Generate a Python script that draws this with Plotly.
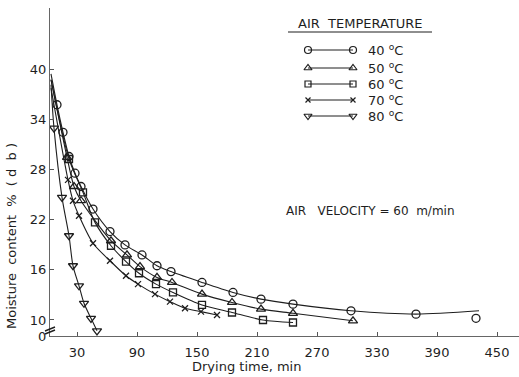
import plotly.graph_objects as go

# ---------------- data ----------------
time_40 = [4, 10, 16, 22, 28, 34, 46, 63, 78, 95, 110, 124, 155, 186, 214, 246, 304, 369, 429]
moist_40 = [39.5, 35.8, 32.5, 29.6, 27.6, 26.0, 23.3, 20.6, 19.0, 17.8, 16.5, 15.8, 14.5, 13.3, 12.5, 11.9, 11.1, 10.7, 10.2]
fit_end_40 = (432, 11.1)   # smooth fitted curve ends above the last 40 C point

time_50 = [4, 20, 27, 34, 64, 80, 93, 110, 125, 155, 185, 214, 246, 306]
moist_50 = [38.8, 29.5, 26.0, 24.3, 19.5, 17.8, 16.4, 15.1, 14.5, 13.1, 12.1, 11.3, 10.8, 9.9]

time_60 = [4, 22, 36, 48, 64, 79, 92, 109, 126, 155, 185, 216, 246]
moist_60 = [38.8, 29.3, 25.3, 21.7, 18.9, 17.0, 15.6, 14.3, 13.3, 11.8, 10.9, 10.0, 9.7]

time_70 = [4, 21, 26, 32, 46, 63, 79, 91, 108, 123, 138, 154, 170]
moist_70 = [37.8, 26.8, 24.3, 22.5, 19.2, 17.1, 15.3, 14.3, 13.1, 12.2, 11.4, 11.0, 10.6]

time_80 = [4, 7, 15, 22, 26, 32, 37, 44, 50]
moist_80 = [38.2, 33.0, 24.7, 20.1, 16.5, 14.1, 12.0, 10.2, 8.7]

series_labels = ["40", "50", "60", "70", "80"]
series_symbols = ["circle-open", "triangle-up-open", "square-open", "x-thin-open", "triangle-down-open"]
series_sizes = [8, 8, 7, 6, 8]

x_ticks = [30, 90, 150, 210, 270, 330, 390, 450]
y_ticks = [10, 16, 22, 28, 34, 40]
y_axis_floor = 8.08          # level of the x-axis (labelled "0", broken axis)
x_range = [3, 472]
y_range = [y_axis_floor, 47.4]

# ---------------- figure ----------------
INK = "#1e1e1e"
FONT = "DejaVu Sans"
W, H = 519, 377
ML, MR, MT, MB = 50, 0, 8, 41
PW, PH = W - ML - MR, H - MT - MB

def px(xp):  # pixel -> paper x
    return (xp - ML) / PW

def py(yp):  # pixel -> paper y
    return (H - MB - yp) / PH

fig = go.Figure()

all_t = [time_40, time_50, time_60, time_70, time_80]
all_m = [moist_40, moist_50, moist_60, moist_70, moist_80]

for i, (t, m) in enumerate(zip(all_t, all_m)):
    if i == 0:
        lx = t[:-1] + [fit_end_40[0]]
        ly = m[:-1] + [fit_end_40[1]]
    else:
        lx, ly = t, m
    fig.add_trace(go.Scatter(x=lx, y=ly, mode="lines",
                             line=dict(color=INK, width=1.1, shape="spline", smoothing=0.8),
                             showlegend=False, hoverinfo="skip"))
    fig.add_trace(go.Scatter(x=t[1:], y=m[1:], mode="markers",
                             marker=dict(symbol=series_symbols[i], size=series_sizes[i],
                                         color=INK, line=dict(width=1.3, color=INK)),
                             showlegend=False))

# custom legend drawn on an overlay axis in pixel units
leg_rows = [50, 68, 84, 100, 116]
for i, yr in enumerate(leg_rows):
    fig.add_trace(go.Scatter(x=[308, 353], y=[yr, yr], mode="lines+markers", xaxis="x2", yaxis="y2",
                             line=dict(color=INK, width=1),
                             marker=dict(symbol=series_symbols[i], size=series_sizes[i] - 1,
                                         color=INK, line=dict(width=1.2, color=INK)),
                             showlegend=False, hoverinfo="skip"))

def ann(x, y, text, size=13, xanchor="center", angle=0):
    return dict(x=px(x), y=py(y), xref="paper", yref="paper", xanchor=xanchor, yanchor="middle",
                showarrow=False, text=text, textangle=angle,
                font=dict(family=FONT, size=size, color=INK))

annotations = [ann(366, yr, f"{series_labels[i]} <sup>o</sup>C", xanchor="left")
               for i, yr in enumerate(leg_rows)]
annotations += [
    ann(360, 23, "AIR  TEMPERATURE"),
    ann(284, 211, "AIR   VELOCITY = 60  m/min", size=12, xanchor="left"),
    ann(246, 366, "Drying time, min"),
    ann(12, 236, "Moisture  content  %  ( d  b )", angle=-90),
]

shapes = [
    dict(type="line", xref="paper", yref="paper", x0=px(288), x1=px(432), y0=py(32), y1=py(32),
         line=dict(color=INK, width=1.2)),
    dict(type="line", xref="paper", yref="paper", x0=px(45), x1=px(55), y0=py(331), y1=py(327),
         line=dict(color=INK, width=1.5)),
    dict(type="line", xref="paper", yref="paper", x0=px(45), x1=px(55), y0=py(334), y1=py(330),
         line=dict(color=INK, width=1.5)),
]

fig.update_layout(
    width=W, height=H,
    margin=dict(l=ML, r=MR, t=MT, b=MB),
    paper_bgcolor="white", plot_bgcolor="white",
    font=dict(family=FONT, size=13, color=INK),
    showlegend=False,
    annotations=annotations, shapes=shapes,
    xaxis=dict(range=x_range, tickvals=x_ticks, ticks="inside", ticklen=4, tickcolor="#555",
               showline=True, linecolor="#666", linewidth=1, showgrid=False, zeroline=False,
               ticklabelstandoff=4, tickfont=dict(family=FONT, size=13, color=INK)),
    yaxis=dict(range=y_range, tickvals=[y_axis_floor] + y_ticks,
               ticktext=["0"] + [str(v) for v in y_ticks],
               ticks="inside", ticklen=4, tickcolor="#555",
               showline=True, linecolor="#666", linewidth=1, showgrid=False, zeroline=False,
               tickfont=dict(family=FONT, size=13, color=INK)),
    xaxis2=dict(overlaying="x", range=[ML, W - MR], visible=False, fixedrange=True),
    yaxis2=dict(overlaying="y", range=[H - MB, MT], visible=False, fixedrange=True),
)

fig.write_html("out.html")
